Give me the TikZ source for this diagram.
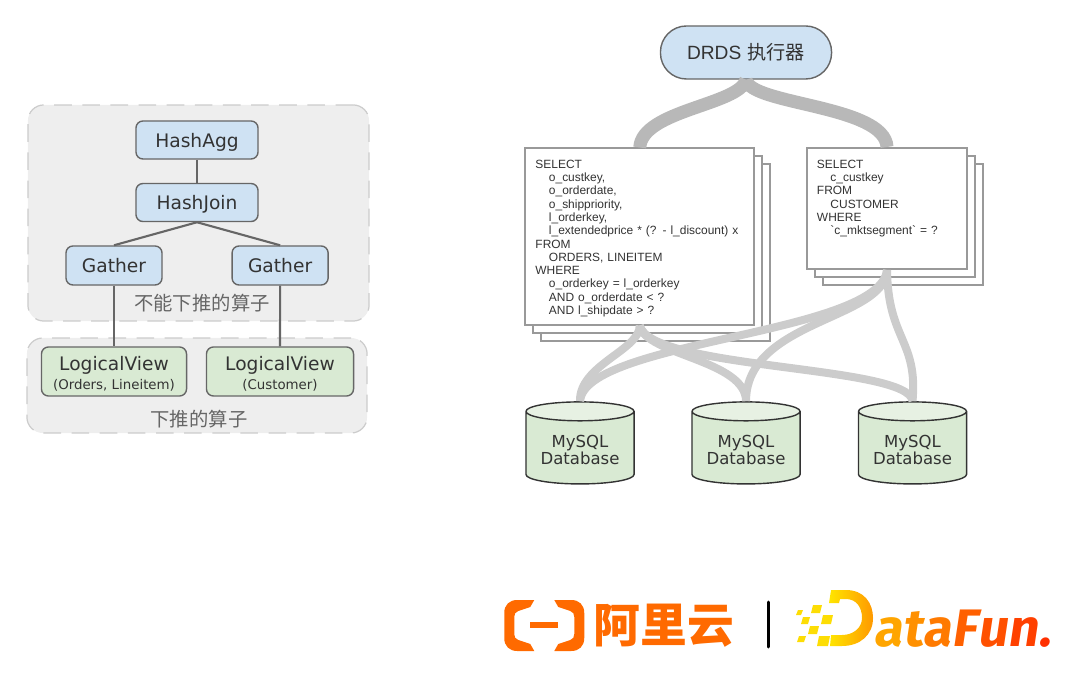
\documentclass[tikz,border=0pt]{standalone}
\usepackage{fontspec}
\setmainfont{DejaVu Sans}
\newfontfamily\sqlfont{Liberation Sans}
\newfontfamily\cjkfont{Noto Sans CJK SC}
\newfontfamily\logofont[FakeSlant=0.15]{Fira Sans}
\usetikzlibrary{shapes.geometric}
\definecolor{opblue}{HTML}{CFE2F3}
\definecolor{opgreen}{HTML}{D9EAD3}
\definecolor{oprim}{HTML}{E7F1E3}
\definecolor{opedge}{HTML}{666666}
\definecolor{optext}{HTML}{333333}
\definecolor{zonefill}{HTML}{EEEEEE}
\definecolor{zoneedge}{HTML}{CCCCCC}
\definecolor{aliorange}{HTML}{FF6A00}
\definecolor{dfa}{HTML}{FFA500}
\definecolor{dfb}{HTML}{FF9000}
\definecolor{dfc}{HTML}{FF7A00}
\definecolor{dfd}{HTML}{FF6000}
\definecolor{dfe}{HTML}{FF5000}
\definecolor{dff}{HTML}{FF4000}
\definecolor{dfg}{HTML}{FF3000}
\tikzset{
  zone/.style={draw=zoneedge, fill=zonefill, dash pattern=on 5pt off 3pt, line width=0.35pt, rounded corners=0.16cm, inner sep=0pt},
  zonelabel/.style={text=opedge, font=\cjkfont\fontsize{5.5}{6}\selectfont, inner sep=0pt},
  opbox/.style={draw=opedge, fill=opblue, text=optext, rounded corners=0.07cm, line width=0.4pt, inner sep=0pt, font=\fontsize{5.3}{6.4}\selectfont},
  viewbox/.style={opbox, fill=opgreen, minimum height=0.49cm, align=center},
  tree/.style={draw=opedge, line width=0.6pt},
  sheet/.style={draw=black!40, fill=white, line width=0.55pt, inner xsep=0.1cm, inner ysep=0pt, align=left, text=optext, font=\sqlfont\fontsize{3.4}{3.78}\selectfont},
  dbnode/.style={cylinder, shape border rotate=90, aspect=0.24, draw=optext, line width=0.4pt, minimum width=1.08cm, minimum height=0.82cm, inner sep=0pt, align=center, text=optext, cylinder uses custom fill, cylinder body fill=opgreen, cylinder end fill=oprim, font=\fontsize{4.7}{5.1}\selectfont},
  fatline/.style={draw=black!28, line width=0.13cm},
  dbline/.style={draw=black!20, line width=0.08cm}
}
\begin{document}
\begin{tikzpicture}[x=0.01cm, y=-0.01cm, node distance=0.625cm]
    \useasboundingbox (0,0) rectangle (1080,680);
    \node (zonetop) [zone, minimum width=3.41cm, minimum height=2.16cm] at (198.5,213) {};
    \node (zonelow) [zone, minimum width=3.40cm, minimum height=0.95cm] at (197,385.5) {};
    \node (zonetoplabel) [zonelabel] at (202,303) {不能下推的算子};
    \node (zonelowlabel) [zonelabel] at (199,419) {下推的算子};

    \node (hashagg) [opbox, text depth=0pt, minimum width=1.22cm, minimum height=0.38cm] at (197,140) {HashAgg};
    \node (hashjoin) [opbox, text depth=0pt, minimum width=1.22cm, minimum height=0.38cm, below of=hashagg] {HashJoin};
    \node (gatherl) [opbox, minimum width=0.96cm, minimum height=0.39cm] at (114,265.5) {Gather};
    \node (gatherr) [opbox, minimum width=0.96cm, minimum height=0.39cm, right of=gatherl, node distance=1.66cm] {Gather};
    \node (viewl) [viewbox, minimum width=1.45cm] at (114,371.5) {\rule{0pt}{5.2pt}LogicalView\\[-1.14pt]{\fontsize{3.8}{4}\selectfont (Orders, Lineitem)}};
    \node (viewr) [viewbox, minimum width=1.47cm] at (280,371.5) {\rule{0pt}{5.2pt}LogicalView\\[-1.14pt]{\fontsize{3.8}{4}\selectfont (Customer)}};
    \draw[tree] (hashagg) to (hashjoin);
    \draw[tree] (hashjoin.south) to (gatherl.north);
    \draw[tree] (hashjoin.south) to (gatherr.north);
    \draw[tree] (gatherl) to (viewl);
    \draw[tree] (gatherr) to (viewr);

    \node (drds) [opbox, rounded corners=0.26cm, minimum width=1.71cm, minimum height=0.53cm, font=\fontsize{5.45}{6}\selectfont] at (746,52.5) {{\sqlfont DRDS} {\cjkfont 执行器}};

    \foreach \d in {16,8}
      \node (sheetl\d) [sheet, text width=2.085cm, minimum height=1.76cm] at (639.75+\d,236.5+\d) {};
    \node (sqlleft) [sheet, text width=2.085cm, minimum height=1.76cm] at (639.75,236.5) {\rule{0pt}{3.5pt}SELECT\\
      \hspace{0.135cm}o\_custkey,\\
      \hspace{0.135cm}o\_orderdate,\\
      \hspace{0.135cm}o\_shippriority,\\
      \hspace{0.135cm}l\_orderkey,\\
      \hspace{0.135cm}l\_extendedprice * (? - l\_discount) x\\
      FROM\\
      \hspace{0.135cm}ORDERS, LINEITEM\\
      WHERE\\
      \hspace{0.135cm}o\_orderkey = l\_orderkey\\
      \hspace{0.135cm}AND o\_orderdate < ?\\
      \hspace{0.135cm}AND l\_shipdate > ?};
    \foreach \d in {16,8}
      \node (sheetr\d) [sheet, text width=1.4cm, minimum height=1.21cm] at (887+\d,208.5+\d) {};
    \node (sqlright) [sheet, text width=1.4cm, minimum height=1.21cm] at (887,208.5) {\rule{0pt}{3.5pt}SELECT\\
      \hspace{0.135cm}c\_custkey\\
      FROM\\
      \hspace{0.135cm}CUSTOMER\\
      WHERE\\
      \hspace{0.135cm}`c\_mktsegment` = ?\\
      ~\\
      ~};

    \node (db1) [dbnode] at (580,448) {\rule{0pt}{4.6pt}MySQL\\Database};
    \node (db2) [dbnode] at (746,448) {\rule{0pt}{4.6pt}MySQL\\Database};
    \node (db3) [dbnode] at (912.5,448) {\rule{0pt}{4.6pt}MySQL\\Database};

    \draw[fatline] (drds.south) .. controls (740,105) and (642,110) .. (sqlleft.north);
    \draw[fatline] (drds.south) .. controls (750,105) and (885,105) .. (sqlright.north);
    \draw[dbline] (sqlleft.south) .. controls (640,350) and (579,365) .. (db1.north);
    \draw[dbline] (sqlleft.south) .. controls (645,355) and (746,360) .. (db2.north);
    \draw[dbline] (sqlleft.south) .. controls (650,370) and (910,365) .. (db3.north);
    \draw[dbline] (sqlright.south) .. controls (880,335) and (585,340) .. (db1.north);
    \draw[dbline] (sqlright.south) .. controls (885,320) and (746,320) .. (db2.north);
    \draw[dbline] (sqlright.south) .. controls (888,340) and (918,340) .. (db3.north);

    \foreach \s in {1,-1} {
      \begin{scope}[shift={(544.25,0)}, xscale=\s]
        \fill[aliorange] (-10,600) -- (-14,607) -- (-26,611) .. controls (-29,612) and (-30,614) .. (-30,617) -- (-30,634) .. controls (-30,637) and (-29,639) .. (-26,640) -- (-14,644) -- (-10,651) -- (-27,651) .. controls (-35,651) and (-40,646) .. (-40,638) -- (-40,613) .. controls (-40,605) and (-35,600) .. (-27,600) -- cycle;
      \end{scope}
    }
    \fill[aliorange] (530,622) rectangle (558,628);
    \node (aliyun) [inner sep=0pt, text=aliorange, font=\cjkfont\bfseries\fontsize{13.3}{14}\selectfont] at (664,626) {阿里云};
    \draw[black, line width=0.03cm, line cap=round] (768,602) -- (768,647);

    \foreach \px/\py/\pw/\ph in {811/605/9/8, 796/610/5/5, 801/617/7/7, 821/615/10/9, 808/626/9/8, 797/636/7/6, 817/636/11/10}
      \fill[yellow!80!orange] ({\px+2},\py) -- ({\px+2+\pw},\py) -- ({\px+\pw},{\py+\ph}) -- (\px,{\py+\ph}) -- cycle;
    \shade[left color=yellow!80!orange, right color=orange!80!yellow] (831,590) -- (846,590) .. controls (864,590) and (873,603) .. (873,618) .. controls (873,635) and (860,646) .. (842,646) -- (830,646) -- (831,635) -- (842,635) .. controls (853,635) and (862,628) .. (862,618) .. controls (862,607) and (856,599) .. (846,599) -- (840,599) -- (839,603) -- (829,603) -- cycle;
    \node (datafun) [inner sep=0pt, anchor=base west, font=\logofont\bfseries\fontsize{15}{16}\selectfont] at (873,646) {\textcolor{dfa}{a}\textcolor{dfb}{t}\textcolor{dfc}{a}\textcolor{dfd}{F}\textcolor{dfe}{u}\textcolor{dff}{n}\textcolor{dfg}{.}};
  \end{tikzpicture}
\end{document}
